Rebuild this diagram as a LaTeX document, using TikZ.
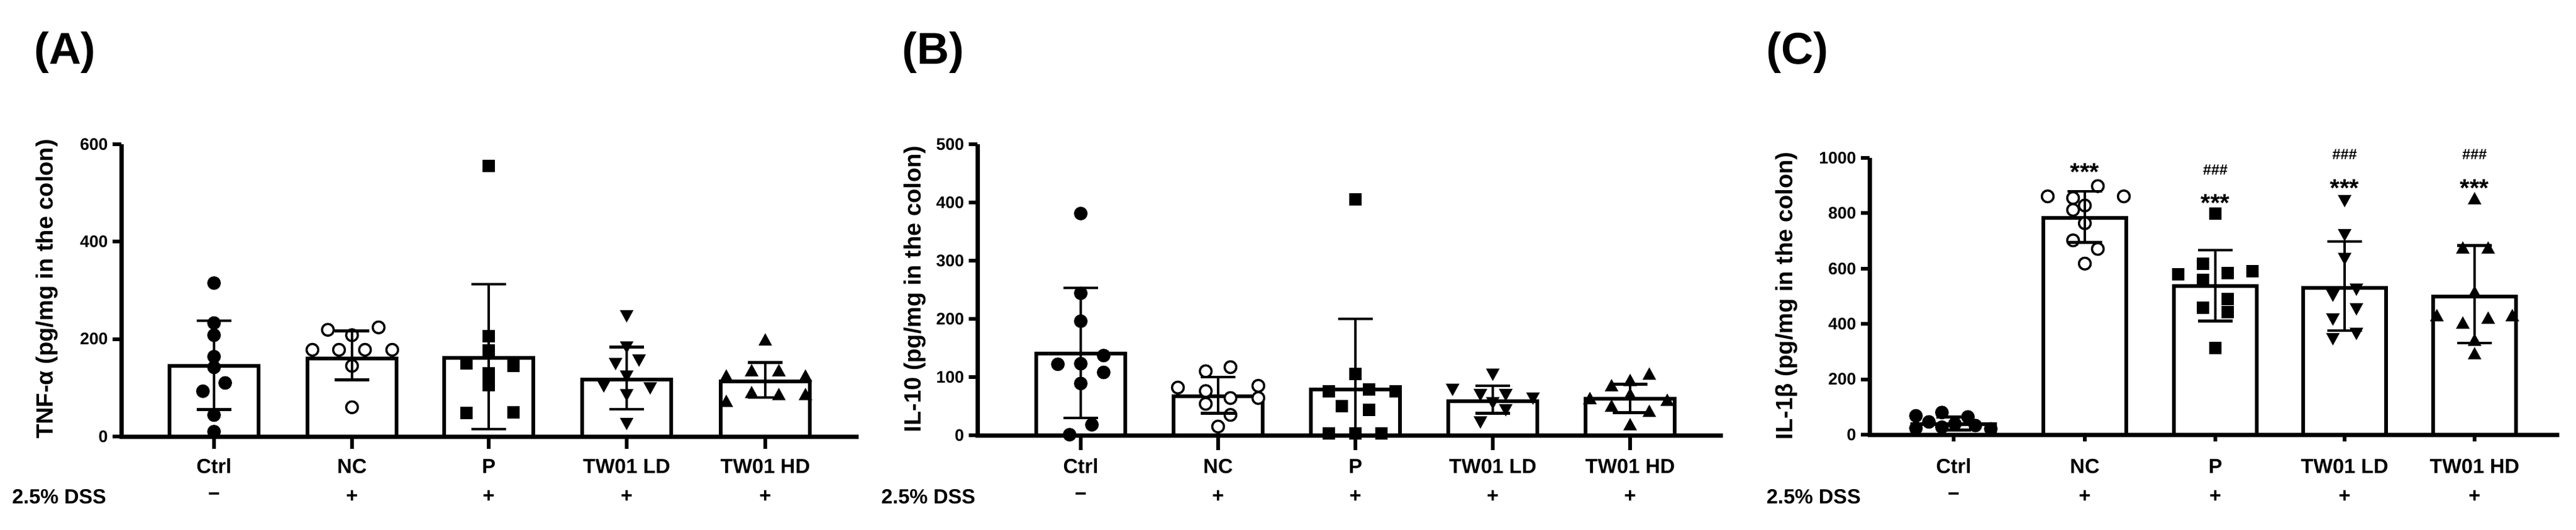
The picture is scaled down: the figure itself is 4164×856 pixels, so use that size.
\documentclass[tikz,border=0pt]{standalone}
\usepackage{fontspec}
\setmainfont{Liberation Sans}
\begin{document}
\begin{tikzpicture}[x=1pt,y=-1pt,font=\bfseries]
\useasboundingbox (0,0) rectangle (4164,856);
\tikzset{ax/.style={line width=7pt},barst/.style={draw,line width=6pt,fill=white},
 err/.style={line width=4.5pt},tick/.style={line width=6pt},
 ticklab/.style={font=\fontsize{27}{30}\bfseries\selectfont,anchor=east},
 catlab/.style={font=\fontsize{33}{36}\bfseries\selectfont},
 ytitle/.style={font=\fontsize{38}{42}\bfseries\selectfont,rotate=90},
 plab/.style={font=\fontsize{72}{80}\bfseries\selectfont},
 sig/.style={font=\fontsize{40}{44}\bfseries\selectfont},
 hsh/.style={font=\fontsize{24}{28}\bfseries\selectfont}}
\newcommand\mybar[3]{\draw[barst] (#1-#3,0) rectangle (#1+#3,#2);}
\newcommand\myerr[3]{\draw[err] (#1,#2)--(#1,#3) (#1-28,#2)--(#1+28,#2) (#1-28,#3)--(#1+28,#3);}
\newcommand\ptC[3]{\fill (#1+#2,#3) circle (11pt);}
\newcommand\ptO[3]{\draw[line width=3.5pt,fill=white] (#1+#2,#3) circle (9.5pt);}
\newcommand\ptS[3]{\fill (#1+#2,#3) ++(-10pt,-10pt) rectangle ++(20pt,20pt);}
\newcommand\ptD[3]{\fill (#1+#2,#3) ++(-11pt,9pt) -- ++(22pt,0pt) -- ++(-11pt,-20pt) -- cycle;}
\newcommand\ptU[3]{\fill (#1+#2,#3) ++(-11pt,-9pt) -- ++(22pt,0pt) -- ++(-11pt,20pt) -- cycle;}
\newcommand\cats[6]{%
 \foreach \c/\t in {#2/Ctrl,#3/NC,#4/P,#5/TW01 LD,#6/TW01 HD}{\node[catlab] at (#1+\c,753) {\t};}
 \foreach \c in {#3,#4,#5,#6}{\node[catlab] at (#1+\c,802) {+};}
 \node[catlab] at (#1+#2,802) {\textminus};}
% ================= Panel A
\node[plab] at (105,85) {(A)};
\node[ytitle] at (76,467) {TNF-α (pg/mg in the colon)};
\node[catlab,anchor=west] at (16,802) {2.5\% DSS};
\cats{196}{150}{373}{594}{817}{1041}
\begin{scope}[shift={(196,705)},y=0.7867pt]
 \mybar{150}{145}{72}\mybar{373}{160}{72}\mybar{594}{162}{72}\mybar{817}{117}{72}\mybar{1041}{113}{72}
 \foreach \d/\v in {0/315,0/233,0/208,0/164,0/142,18/110,-18/93,0/44,0/10}{\ptC{150}{\d}{\v}}
 \foreach \d/\v in {-39/219,43/224,0/208,-64/178,-21/178,21/178,65/178,0/145,0/60}{\ptO{373}{\d}{\v}}
 \foreach \d/\v in {0/556,0/206,0/177,-36/150,40/145,0/130,0/105,-36/48,40/49}{\ptS{594}{\d}{\v}}
 \foreach \d/\v in {0/248,0/184,-18/150,20/157,0/124,-37/104,38/100,0/86,0/27}{\ptD{817}{\d}{\v}}
 \foreach \d/\v in {0/198,-22/135,22/135,-63/124,65/124,-22/90,22/86,-63/72,65/86}{\ptU{1041}{\d}{\v}}
 \myerr{150}{55}{238}\myerr{373}{116}{217}\myerr{594}{15}{313}\myerr{817}{56}{184}\myerr{1041}{80}{152}
 \draw[ax] (0,600)--(0,0)--(1192,0);
 \foreach \v in {0,200,400,600}{\draw[tick] (0,\v)--(-14,\v); \node[ticklab] at (-18,\v) {\v};}
 \foreach \c in {150,373,594,817,1041}{\draw[tick] (\c,0)--(\c,-25);}
\end{scope}
% ================= Panel B
\node[plab] at (1508,85) {(B)};
\node[ytitle] at (1479,467) {IL-10 (pg/mg in the colon)};
\node[catlab,anchor=west] at (1421,802) {2.5\% DSS};
\cats{1580}{167}{389}{611}{833}{1055}
\begin{scope}[shift={(1580,703)},y=0.94pt]
 \mybar{167}{140}{72}\mybar{389}{67}{72}\mybar{611}{79}{72}\mybar{833}{58}{72}\mybar{1055}{63}{72}
 \foreach \d/\v in {0/381,0/244,0/196,37/137,-37/122,0/123,37/108,0/89,18/18,-18/1}{\ptC{167}{\d}{\v}}
 \foreach \d/\v in {-20/110,20/117,-65/82,65/85,-20/76,20/64,65/64,-20/54,20/35,0/15}{\ptO{389}{\d}{\v}}
 \foreach \d/\v in {0/405,0/105,22/79,-22/50,22/44,-43/3,0/3,42/3,-43/76,65/76}{\ptS{611}{\d}{\v}}
 \foreach \d/\v in {0/105,-65/79,-20/70,21/70,65/64,0/56,21/44,-20/23}{\ptD{833}{\d}{\v}}
 \foreach \d/\v in {31/105,0/94,-30/85,-65/63,60/60,-30/50,31/41,0/18,0/70}{\ptU{1055}{\d}{\v}}
 \myerr{167}{30}{253}\myerr{389}{38}{100}\myerr{611}{0}{200}\myerr{833}{38}{85}\myerr{1055}{39}{88}
 \draw[ax] (0,500)--(0,0)--(1205,0);
 \foreach \v in {0,100,...,500}{\draw[tick] (0,\v)--(-14,\v); \node[ticklab] at (-18,\v) {\v};}
 \foreach \c in {167,389,611,833,1055}{\draw[tick] (\c,0)--(\c,-25);}
\end{scope}
% ================= Panel C
\node[plab] at (2905,85) {(C)};
\node[ytitle] at (2888,478) {IL-1β (pg/mg in the colon)};
\node[catlab,anchor=west] at (2852,802) {2.5\% DSS};
\cats{3022}{136}{348}{559}{768}{978}
\begin{scope}[shift={(3022,702)},y=0.447pt]
 \mybar{136}{39}{67}\mybar{348}{784}{67}\mybar{559}{538}{67}\mybar{768}{530}{67}\mybar{978}{499}{67}
 \foreach \d/\v in {-61/68,-19/80,23/64,-40/46,2/39,35/33,60/21,-19/27,-61/23}{\ptC{136}{\d}{\v}}
 \foreach \d/\v in {-60/861,21/898,63/861,-19/855,0/828,-19/812,0/764,-19/702,21/671,0/618}{\ptO{348}{\d}{\v}}
 \foreach \d/\v in {0/799,-60/579,60/591,-20/618,20/584,-20/559,20/489,-20/458,20/442,0/314}{\ptS{559}{\d}{\v}}
 \foreach \d/\v in {0/846,0/723,0/637,-19/504,19/526,19/455,-19/418,-19/347,19/366}{\ptD{768}{\d}{\v}}
 \foreach \d/\v in {0/852,-19/674,22/674,0/514,-61/430,61/430,-19/403,22/421,0/341,0/292}{\ptU{978}{\d}{\v}}
 \myerr{136}{17}{64}\myerr{348}{695}{879}\myerr{559}{411}{667}\myerr{768}{376}{698}\myerr{978}{331}{683}
 \draw[ax] (0,1000)--(0,0)--(1115,0);
 \foreach \v in {0,200,...,1000}{\draw[tick] (0,\v)--(-14,\v); \node[ticklab] at (-18,\v) {\v};}
 \foreach \c in {136,348,559,768,978}{\draw[tick] (\c,0)--(\c,-25);}
 \node[sig] at (348,950) {***};
 \node[hsh] at (559,957) {\#\#\#}; \node[sig] at (559,838) {***};
 \node[hsh] at (768,1012) {\#\#\#}; \node[sig] at (768,891) {***};
 \node[hsh] at (978,1012) {\#\#\#}; \node[sig] at (978,891) {***};
\end{scope}
\end{tikzpicture}
\end{document}
